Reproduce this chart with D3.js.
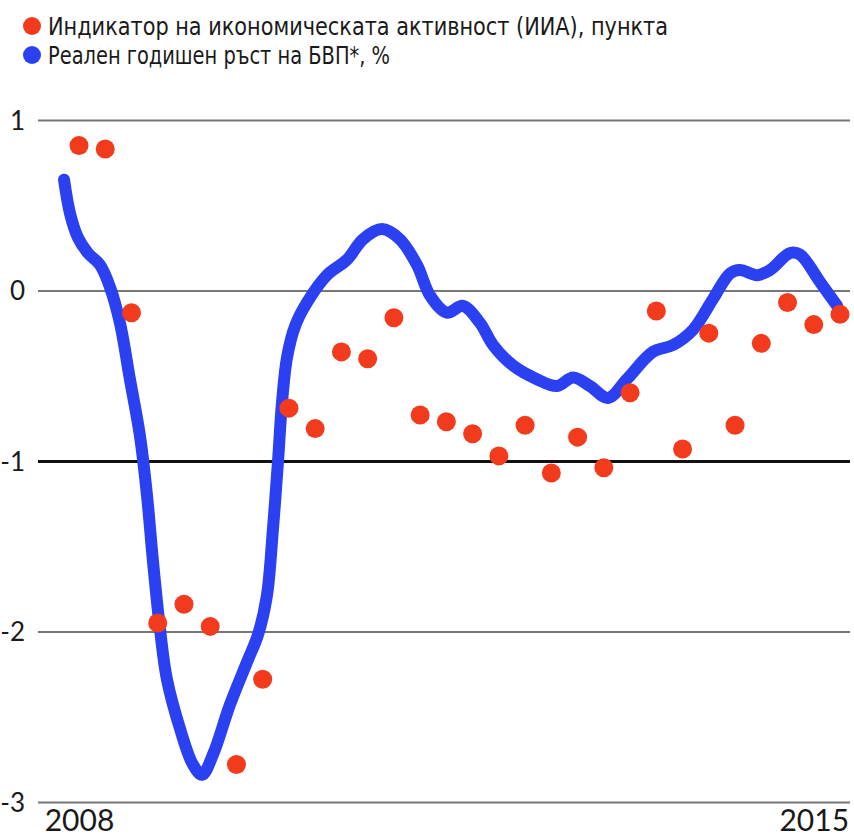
<!DOCTYPE html>
<html>
<head>
<meta charset="utf-8">
<script src="https://cdn.jsdelivr.net/npm/d3@7"></script>
<style>
  body { margin: 0; background: #fff; }
  .legend text { font-family: "Liberation Sans Narrow", "DejaVu Sans Condensed", "Noto Sans", sans-serif; font-size: 25px; fill: #1a1a1a; }
  .axis text { font-family: Lato, "Open Sans", sans-serif; fill: #1a1a1a; }
</style>
</head>
<body>
<script>
// ИИА - quarterly points, 2008 Q1 .. 2015 Q2
const quarters = ['2008Q1','2008Q2','2008Q3','2008Q4','2009Q1','2009Q2','2009Q3','2009Q4',
  '2010Q1','2010Q2','2010Q3','2010Q4','2011Q1','2011Q2','2011Q3','2011Q4',
  '2012Q1','2012Q2','2012Q3','2012Q4','2013Q1','2013Q2','2013Q3','2013Q4',
  '2014Q1','2014Q2','2014Q3','2014Q4','2015Q1','2015Q2']
const iiaValues = [0.85, 0.83, -0.13, -1.95, -1.84, -1.97, -2.78, -2.28, -0.69, -0.81,
  -0.36, -0.40, -0.16, -0.73, -0.77, -0.84, -0.97, -0.79, -1.07, -0.86,
  -1.04, -0.60, -0.12, -0.93, -0.25, -0.79, -0.31, -0.07, -0.20, -0.14]

// real GDP growth - smooth line, position in quarters from 2008 Q1
const gdpPos = [-0.57, -0.34, -0.04, 0.34, 0.8, 1.18, 1.56, 1.94, 2.32, 2.59, 2.82, 3.09, 3.35, 3.85,
  4.34, 4.69, 5.11, 5.75, 6.4, 6.82, 7.16, 7.39, 7.58, 7.74, 7.93, 8.23, 8.69, 9.45, 10.21,
  10.82, 11.54, 12.23, 12.88, 13.38, 14.02, 14.63, 15.28, 15.78, 16.54, 17.45, 18.22, 18.83,
  19.47, 20.16, 20.88, 21.87, 22.64, 23.4, 24.16, 24.81, 25.19, 25.84, 26.33, 27.1, 27.48,
  28.24, 28.89]
const gdpValues = [0.65, 0.45, 0.31, 0.22, 0.15, 0.02, -0.19, -0.52, -0.85, -1.2, -1.59, -1.99, -2.28, -2.57,
  -2.78, -2.84, -2.72, -2.43, -2.18, -2.02, -1.79, -1.4, -1.01, -0.65, -0.39, -0.21, -0.07, 0.09, 0.18,
  0.3, 0.36, 0.3, 0.15, -0.03, -0.13, -0.09, -0.19, -0.32, -0.44, -0.52, -0.56, -0.51,
  -0.56, -0.63, -0.52, -0.36, -0.32, -0.23, -0.05, 0.1, 0.12, 0.09, 0.12, 0.22, 0.21,
  0.05, -0.09]

const yTicks = [1, 0, -1, -2, -3]
const yearLabels = ['2008', '2015']
const yearPos = [0, 28]

const legendItems = ['Индикатор на икономическата активност (ИИА), пункта', 'Реален годишен ръст на БВП*, %']
const colors = {iia: '#f23a1c', gdp: '#2b40f0'}

const size = {width: 854, height: 839, gridLeft: 38, gridRight: 850}

let svg = d3.select('body')
            .append('svg')
            .attr('width', size.width)
            .attr('height', size.height)

let xScale = d3.scaleLinear()
               .domain([0, quarters.length - 1])
               .range([79, 840])
let yScale = d3.scaleLinear()
               .domain([-3, 1])
               .range([802, 120])

// y axis + gridlines
let yAxis = d3.axisLeft(yScale)
              .tickValues(yTicks)
              .tickSize(-(size.gridRight - size.gridLeft))
              .tickPadding(13)
              .tickFormat(d => d)
let yG = svg.append('g')
            .attr('class', 'axis')
            .attr('transform', `translate(${size.gridLeft},0)`)
            .call(yAxis)
yG.select('.domain').remove()
yG.selectAll('.tick line')
  .attr('stroke', d => d === -1 ? '#111' : '#777')
  .attr('stroke-width', d => d === -1 ? 3 : 2)
yG.selectAll('.tick text')
  .attr('font-size', 26)
  .attr('dy', '0.36em')

// x labels
let xAxis = d3.axisBottom(xScale)
              .tickValues(yearPos)
              .tickSize(0)
              .tickFormat((d, i) => yearLabels[i])
let xG = svg.append('g')
            .attr('class', 'axis')
            .attr('transform', `translate(0,${yScale(-3)})`)
            .call(xAxis)
xG.select('.domain').remove()
xG.selectAll('.tick text')
  .attr('font-size', 30)
  .attr('y', 8)

// GDP line
let line = d3.line()
             .x((d, i) => xScale(gdpPos[i]))
             .y(d => yScale(d))
             .curve(d3.curveCatmullRom.alpha(0.5))
svg.append('path')
   .datum(gdpValues)
   .attr('d', line)
   .attr('fill', 'none')
   .attr('stroke', colors.gdp)
   .attr('stroke-width', 12)
   .attr('stroke-linecap', 'round')
   .attr('stroke-linejoin', 'round')

// IIA dots
svg.append('g')
   .selectAll('circle')
   .data(iiaValues)
   .enter()
   .append('circle')
   .attr('cx', (d, i) => xScale(i))
   .attr('cy', d => yScale(d))
   .attr('r', 9.5)
   .attr('fill', colors.iia)

// legend
let legend = svg.append('g').attr('class', 'legend')
let lg = legend.selectAll('g')
               .data(legendItems)
               .enter()
               .append('g')
               .attr('transform', (d, i) => `translate(0,${26 + i * 29})`)
lg.append('circle')
  .attr('cx', 32)
  .attr('cy', 0)
  .attr('r', 9)
  .attr('fill', (d, i) => i === 0 ? colors.iia : colors.gdp)
lg.append('text')
  .attr('x', 48)
  .attr('y', 9)
  .attr('textLength', (d, i) => i === 0 ? 620 : 342)
  .attr('lengthAdjust', 'spacingAndGlyphs')
  .text(d => d)
</script>
</body>
</html>
